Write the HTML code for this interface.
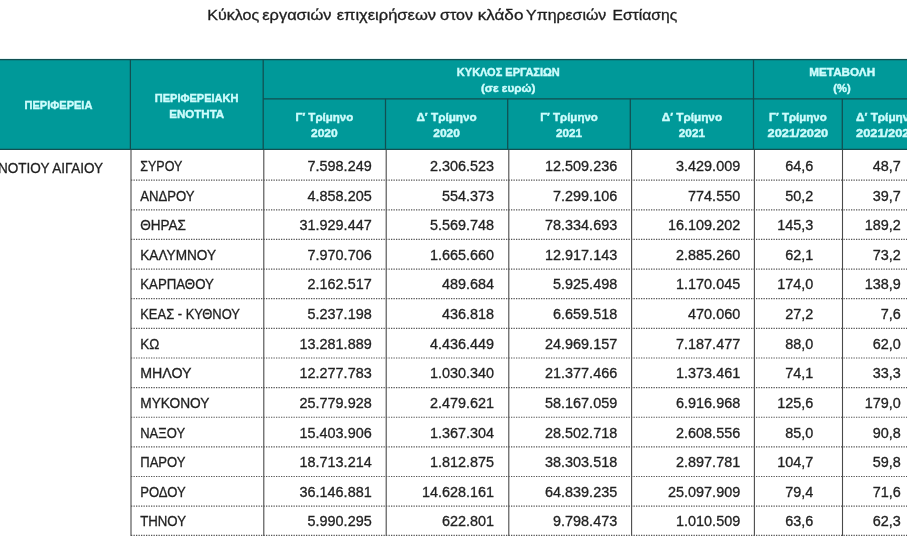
<!DOCTYPE html>
<html lang="el"><head><meta charset="utf-8"><title>Κύκλος εργασιών</title>
<style>
html,body{margin:0;padding:0;background:#fff}
body{width:907px;height:536px;overflow:hidden;font-family:"Liberation Sans",sans-serif}
body{position:relative}
svg{display:block;position:absolute;left:-12px;top:-12px;filter:blur(.42px)}
text{font-family:"Liberation Sans",sans-serif}
.t{font-size:14.4px;fill:#1e1e1e;stroke:#1e1e1e;stroke-width:.3px}
.b,.n{font-size:14.8px;fill:#222;stroke:#222;stroke-width:.3px}
.h{font-size:11.5px;font-weight:bold;fill:#cdfcfc;stroke:#cdfcfc;stroke-width:.42px}
</style></head><body>
<svg width="931" height="560" viewBox="-12 -12 931 560">
<rect x="-12" y="-12" width="931" height="560" fill="#fff"/>
<rect x="-20" y="58.9" width="960" height="91.1" fill="#009999"/>
<g stroke="#124f51" stroke-width="1.25" fill="none">
<line x1="-20" x2="940" y1="59.5" y2="59.5"/>
<line x1="-20" x2="940" y1="149.3" y2="149.3"/>
<line x1="263.2" x2="940" y1="98.8" y2="98.8"/>
<line x1="130.4" x2="130.4" y1="59.5" y2="150.0"/>
<line x1="263.2" x2="263.2" y1="59.5" y2="150.0"/>
<line x1="385.5" x2="385.5" y1="98.8" y2="150.0"/>
<line x1="507.7" x2="507.7" y1="98.8" y2="150.0"/>
<line x1="630.3" x2="630.3" y1="98.8" y2="150.0"/>
<line x1="753.5" x2="753.5" y1="59.5" y2="150.0"/>
<line x1="842.3" x2="842.3" y1="98.8" y2="150.0"/>
</g>
<g stroke="#4a4a4a" stroke-width="1.1" fill="none">
<line x1="131.0" x2="131.0" y1="150.0" y2="550"/>
<line x1="263.8" x2="263.8" y1="150.0" y2="550"/>
<line x1="386.2" x2="386.2" y1="150.0" y2="550"/>
<line x1="508.8" x2="508.8" y1="150.0" y2="550"/>
<line x1="631.6" x2="631.6" y1="150.0" y2="550"/>
<line x1="754.4" x2="754.4" y1="150.0" y2="550"/>
<line x1="842.5" x2="842.5" y1="150.0" y2="550"/>
</g>
<g stroke="#555" stroke-width="1.2" stroke-dasharray="1.3 1.2" fill="none">
<line x1="131.0" x2="940" y1="180.20" y2="180.20"/>
<line x1="131.0" x2="940" y1="209.83" y2="209.83"/>
<line x1="131.0" x2="940" y1="239.46" y2="239.46"/>
<line x1="131.0" x2="940" y1="269.09" y2="269.09"/>
<line x1="131.0" x2="940" y1="298.72" y2="298.72"/>
<line x1="131.0" x2="940" y1="328.35" y2="328.35"/>
<line x1="131.0" x2="940" y1="357.98" y2="357.98"/>
<line x1="131.0" x2="940" y1="387.61" y2="387.61"/>
<line x1="131.0" x2="940" y1="417.24" y2="417.24"/>
<line x1="131.0" x2="940" y1="446.87" y2="446.87"/>
<line x1="131.0" x2="940" y1="476.50" y2="476.50"/>
<line x1="131.0" x2="940" y1="506.13" y2="506.13"/>
<line x1="131.0" x2="940" y1="535.35" y2="535.35"/>
</g>
<text id="title" class="t" y="19.6"><tspan x="207.20" textLength="51.96" lengthAdjust="spacingAndGlyphs">Κύκλος</tspan> <tspan x="262.30" textLength="69.11" lengthAdjust="spacingAndGlyphs">εργασιών</tspan> <tspan x="336.70" textLength="99.35" lengthAdjust="spacingAndGlyphs">επιχειρήσεων</tspan> <tspan x="440.10" textLength="32.86" lengthAdjust="spacingAndGlyphs">στον</tspan> <tspan x="477.70" textLength="45.70" lengthAdjust="spacingAndGlyphs">κλάδο</tspan> <tspan x="526.10" textLength="80.18" lengthAdjust="spacingAndGlyphs">Υπηρεσιών</tspan> <tspan x="612.50" textLength="64.81" lengthAdjust="spacingAndGlyphs">Εστίασης</tspan></text>
<text id="t7" class="h" text-anchor="middle" transform="translate(58.45 108.90) scale(0.9597 1)">ΠΕΡΙΦΕΡΕΙΑ</text>
<text id="t8" class="h" text-anchor="middle" transform="translate(196.60 101.60) scale(0.9590 1)">ΠΕΡΙΦΕΡΕΙΑΚΗ</text>
<text id="t9" class="h" text-anchor="middle" transform="translate(196.70 117.50) scale(1.0057 1)">ΕΝΟΤΗΤΑ</text>
<text id="t10" class="h" text-anchor="middle" transform="translate(508.30 76.10) scale(0.9561 1)">ΚΥΚΛΟΣ ΕΡΓΑΣΙΩΝ</text>
<text id="t11" class="h" text-anchor="middle" transform="translate(508.20 91.90) scale(1.0269 1)">(σε ευρώ)</text>
<text id="t12" class="h" text-anchor="middle" transform="translate(842.20 76.10) scale(1.0186 1)">ΜΕΤΑΒΟΛΗ</text>
<text id="t13" class="h" text-anchor="middle" transform="translate(842.00 91.90) scale(0.9685 1)">(%)</text>
<text id="t14" class="h" text-anchor="middle" transform="translate(324.35 121.10) scale(1.0021 1)">Γ′ Τρίμηνο</text>
<text id="t15" class="h" text-anchor="middle" transform="translate(324.35 136.80) scale(1.0447 1)">2020</text>
<text id="t16" class="h" text-anchor="middle" transform="translate(446.60 121.10) scale(1.0242 1)">Δ′ Τρίμηνο</text>
<text id="t17" class="h" text-anchor="middle" transform="translate(446.60 136.80) scale(1.0447 1)">2020</text>
<text id="t18" class="h" text-anchor="middle" transform="translate(569.00 121.10) scale(1.0021 1)">Γ′ Τρίμηνο</text>
<text id="t19" class="h" text-anchor="middle" transform="translate(569.00 136.80) scale(1.0257 1)">2021</text>
<text id="t20" class="h" text-anchor="middle" transform="translate(691.90 121.10) scale(1.0242 1)">Δ′ Τρίμηνο</text>
<text id="t21" class="h" text-anchor="middle" transform="translate(691.90 136.80) scale(1.0257 1)">2021</text>
<text id="t22" class="h" text-anchor="middle" transform="translate(797.90 121.10) scale(1.0021 1)">Γ′ Τρίμηνο</text>
<text id="t23" class="h" text-anchor="middle" transform="translate(797.90 136.80) scale(1.1158 1)">2021/2020</text>
<text id="t24" class="h" text-anchor="middle" transform="translate(886.30 121.10) scale(1.0242 1)">Δ′ Τρίμηνο</text>
<text id="t25" class="h" text-anchor="middle" transform="translate(886.30 136.80) scale(1.1158 1)">2021/2020</text>
<text id="t26" class="b" text-anchor="start" transform="translate(-2.00 173.00) scale(0.9150 1)">ΝΟΤΙΟΥ ΑΙΓΑΙΟΥ</text>
<text id="t27" class="b" text-anchor="start" transform="translate(140.20 170.90) scale(0.8465 1)">ΣΥΡΟΥ</text>
<text id="t28" class="n" text-anchor="end" transform="translate(371.70 170.90) scale(0.9750 1)">7.598.249</text>
<text id="t29" class="n" text-anchor="end" transform="translate(494.10 170.90) scale(0.9750 1)">2.306.523</text>
<text id="t30" class="n" text-anchor="end" transform="translate(617.20 170.90) scale(0.9750 1)">12.509.236</text>
<text id="t31" class="n" text-anchor="end" transform="translate(740.20 170.90) scale(0.9750 1)">3.429.009</text>
<text id="t32" class="n" text-anchor="end" transform="translate(813.30 170.90) scale(0.9750 1)">64,6</text>
<text id="t33" class="n" text-anchor="end" transform="translate(900.80 170.90) scale(0.9750 1)">48,7</text>
<text id="t34" class="b" text-anchor="start" transform="translate(140.20 200.53) scale(0.8900 1)">ΑΝΔΡΟΥ</text>
<text id="t35" class="n" text-anchor="end" transform="translate(371.70 200.53) scale(0.9750 1)">4.858.205</text>
<text id="t36" class="n" text-anchor="end" transform="translate(494.10 200.53) scale(0.9750 1)">554.373</text>
<text id="t37" class="n" text-anchor="end" transform="translate(617.20 200.53) scale(0.9750 1)">7.299.106</text>
<text id="t38" class="n" text-anchor="end" transform="translate(740.20 200.53) scale(0.9750 1)">774.550</text>
<text id="t39" class="n" text-anchor="end" transform="translate(813.30 200.53) scale(0.9750 1)">50,2</text>
<text id="t40" class="n" text-anchor="end" transform="translate(900.80 200.53) scale(0.9750 1)">39,7</text>
<text id="t41" class="b" text-anchor="start" transform="translate(140.20 230.16) scale(0.9160 1)">ΘΗΡΑΣ</text>
<text id="t42" class="n" text-anchor="end" transform="translate(371.70 230.16) scale(0.9750 1)">31.929.447</text>
<text id="t43" class="n" text-anchor="end" transform="translate(494.10 230.16) scale(0.9750 1)">5.569.748</text>
<text id="t44" class="n" text-anchor="end" transform="translate(617.20 230.16) scale(0.9750 1)">78.334.693</text>
<text id="t45" class="n" text-anchor="end" transform="translate(740.20 230.16) scale(0.9750 1)">16.109.202</text>
<text id="t46" class="n" text-anchor="end" transform="translate(813.30 230.16) scale(0.9750 1)">145,3</text>
<text id="t47" class="n" text-anchor="end" transform="translate(900.80 230.16) scale(0.9750 1)">189,2</text>
<text id="t48" class="b" text-anchor="start" transform="translate(140.20 259.79) scale(0.9233 1)">ΚΑΛΥΜΝΟΥ</text>
<text id="t49" class="n" text-anchor="end" transform="translate(371.70 259.79) scale(0.9750 1)">7.970.706</text>
<text id="t50" class="n" text-anchor="end" transform="translate(494.10 259.79) scale(0.9750 1)">1.665.660</text>
<text id="t51" class="n" text-anchor="end" transform="translate(617.20 259.79) scale(0.9750 1)">12.917.143</text>
<text id="t52" class="n" text-anchor="end" transform="translate(740.20 259.79) scale(0.9750 1)">2.885.260</text>
<text id="t53" class="n" text-anchor="end" transform="translate(813.30 259.79) scale(0.9750 1)">62,1</text>
<text id="t54" class="n" text-anchor="end" transform="translate(900.80 259.79) scale(0.9750 1)">73,2</text>
<text id="t55" class="b" text-anchor="start" transform="translate(140.20 289.42) scale(0.8961 1)">ΚΑΡΠΑΘΟΥ</text>
<text id="t56" class="n" text-anchor="end" transform="translate(371.70 289.42) scale(0.9750 1)">2.162.517</text>
<text id="t57" class="n" text-anchor="end" transform="translate(494.10 289.42) scale(0.9750 1)">489.684</text>
<text id="t58" class="n" text-anchor="end" transform="translate(617.20 289.42) scale(0.9750 1)">5.925.498</text>
<text id="t59" class="n" text-anchor="end" transform="translate(740.20 289.42) scale(0.9750 1)">1.170.045</text>
<text id="t60" class="n" text-anchor="end" transform="translate(813.30 289.42) scale(0.9750 1)">174,0</text>
<text id="t61" class="n" text-anchor="end" transform="translate(900.80 289.42) scale(0.9750 1)">138,9</text>
<text id="t62" class="b" text-anchor="start" transform="translate(140.20 319.05) scale(0.8762 1)">ΚΕΑΣ - ΚΥΘΝΟΥ</text>
<text id="t63" class="n" text-anchor="end" transform="translate(371.70 319.05) scale(0.9750 1)">5.237.198</text>
<text id="t64" class="n" text-anchor="end" transform="translate(494.10 319.05) scale(0.9750 1)">436.818</text>
<text id="t65" class="n" text-anchor="end" transform="translate(617.20 319.05) scale(0.9750 1)">6.659.518</text>
<text id="t66" class="n" text-anchor="end" transform="translate(740.20 319.05) scale(0.9750 1)">470.060</text>
<text id="t67" class="n" text-anchor="end" transform="translate(813.30 319.05) scale(0.9750 1)">27,2</text>
<text id="t68" class="n" text-anchor="end" transform="translate(900.80 319.05) scale(0.9750 1)">7,6</text>
<text id="t69" class="b" text-anchor="start" transform="translate(140.20 348.68) scale(0.9137 1)">ΚΩ</text>
<text id="t70" class="n" text-anchor="end" transform="translate(371.70 348.68) scale(0.9750 1)">13.281.889</text>
<text id="t71" class="n" text-anchor="end" transform="translate(494.10 348.68) scale(0.9750 1)">4.436.449</text>
<text id="t72" class="n" text-anchor="end" transform="translate(617.20 348.68) scale(0.9750 1)">24.969.157</text>
<text id="t73" class="n" text-anchor="end" transform="translate(740.20 348.68) scale(0.9750 1)">7.187.477</text>
<text id="t74" class="n" text-anchor="end" transform="translate(813.30 348.68) scale(0.9750 1)">88,0</text>
<text id="t75" class="n" text-anchor="end" transform="translate(900.80 348.68) scale(0.9750 1)">62,0</text>
<text id="t76" class="b" text-anchor="start" transform="translate(140.20 378.31) scale(0.9614 1)">ΜΗΛΟΥ</text>
<text id="t77" class="n" text-anchor="end" transform="translate(371.70 378.31) scale(0.9750 1)">12.277.783</text>
<text id="t78" class="n" text-anchor="end" transform="translate(494.10 378.31) scale(0.9750 1)">1.030.340</text>
<text id="t79" class="n" text-anchor="end" transform="translate(617.20 378.31) scale(0.9750 1)">21.377.466</text>
<text id="t80" class="n" text-anchor="end" transform="translate(740.20 378.31) scale(0.9750 1)">1.373.461</text>
<text id="t81" class="n" text-anchor="end" transform="translate(813.30 378.31) scale(0.9750 1)">74,1</text>
<text id="t82" class="n" text-anchor="end" transform="translate(900.80 378.31) scale(0.9750 1)">33,3</text>
<text id="t83" class="b" text-anchor="start" transform="translate(140.20 407.94) scale(0.9280 1)">ΜΥΚΟΝΟΥ</text>
<text id="t84" class="n" text-anchor="end" transform="translate(371.70 407.94) scale(0.9750 1)">25.779.928</text>
<text id="t85" class="n" text-anchor="end" transform="translate(494.10 407.94) scale(0.9750 1)">2.479.621</text>
<text id="t86" class="n" text-anchor="end" transform="translate(617.20 407.94) scale(0.9750 1)">58.167.059</text>
<text id="t87" class="n" text-anchor="end" transform="translate(740.20 407.94) scale(0.9750 1)">6.916.968</text>
<text id="t88" class="n" text-anchor="end" transform="translate(813.30 407.94) scale(0.9750 1)">125,6</text>
<text id="t89" class="n" text-anchor="end" transform="translate(900.80 407.94) scale(0.9750 1)">179,0</text>
<text id="t90" class="b" text-anchor="start" transform="translate(140.20 437.57) scale(0.8795 1)">ΝΑΞΟΥ</text>
<text id="t91" class="n" text-anchor="end" transform="translate(371.70 437.57) scale(0.9750 1)">15.403.906</text>
<text id="t92" class="n" text-anchor="end" transform="translate(494.10 437.57) scale(0.9750 1)">1.367.304</text>
<text id="t93" class="n" text-anchor="end" transform="translate(617.20 437.57) scale(0.9750 1)">28.502.718</text>
<text id="t94" class="n" text-anchor="end" transform="translate(740.20 437.57) scale(0.9750 1)">2.608.556</text>
<text id="t95" class="n" text-anchor="end" transform="translate(813.30 437.57) scale(0.9750 1)">85,0</text>
<text id="t96" class="n" text-anchor="end" transform="translate(900.80 437.57) scale(0.9750 1)">90,8</text>
<text id="t97" class="b" text-anchor="start" transform="translate(140.20 467.20) scale(0.8837 1)">ΠΑΡΟΥ</text>
<text id="t98" class="n" text-anchor="end" transform="translate(371.70 467.20) scale(0.9750 1)">18.713.214</text>
<text id="t99" class="n" text-anchor="end" transform="translate(494.10 467.20) scale(0.9750 1)">1.812.875</text>
<text id="t100" class="n" text-anchor="end" transform="translate(617.20 467.20) scale(0.9750 1)">38.303.518</text>
<text id="t101" class="n" text-anchor="end" transform="translate(740.20 467.20) scale(0.9750 1)">2.897.781</text>
<text id="t102" class="n" text-anchor="end" transform="translate(813.30 467.20) scale(0.9750 1)">104,7</text>
<text id="t103" class="n" text-anchor="end" transform="translate(900.80 467.20) scale(0.9750 1)">59,8</text>
<text id="t104" class="b" text-anchor="start" transform="translate(140.20 496.83) scale(0.8837 1)">ΡΟΔΟΥ</text>
<text id="t105" class="n" text-anchor="end" transform="translate(371.70 496.83) scale(0.9750 1)">36.146.881</text>
<text id="t106" class="n" text-anchor="end" transform="translate(494.10 496.83) scale(0.9750 1)">14.628.161</text>
<text id="t107" class="n" text-anchor="end" transform="translate(617.20 496.83) scale(0.9750 1)">64.839.235</text>
<text id="t108" class="n" text-anchor="end" transform="translate(740.20 496.83) scale(0.9750 1)">25.097.909</text>
<text id="t109" class="n" text-anchor="end" transform="translate(813.30 496.83) scale(0.9750 1)">79,4</text>
<text id="t110" class="n" text-anchor="end" transform="translate(900.80 496.83) scale(0.9750 1)">71,6</text>
<text id="t111" class="b" text-anchor="start" transform="translate(140.20 526.46) scale(0.8932 1)">ΤΗΝΟΥ</text>
<text id="t112" class="n" text-anchor="end" transform="translate(371.70 526.46) scale(0.9750 1)">5.990.295</text>
<text id="t113" class="n" text-anchor="end" transform="translate(494.10 526.46) scale(0.9750 1)">622.801</text>
<text id="t114" class="n" text-anchor="end" transform="translate(617.20 526.46) scale(0.9750 1)">9.798.473</text>
<text id="t115" class="n" text-anchor="end" transform="translate(740.20 526.46) scale(0.9750 1)">1.010.509</text>
<text id="t116" class="n" text-anchor="end" transform="translate(813.30 526.46) scale(0.9750 1)">63,6</text>
<text id="t117" class="n" text-anchor="end" transform="translate(900.80 526.46) scale(0.9750 1)">62,3</text>
</svg></body></html>
